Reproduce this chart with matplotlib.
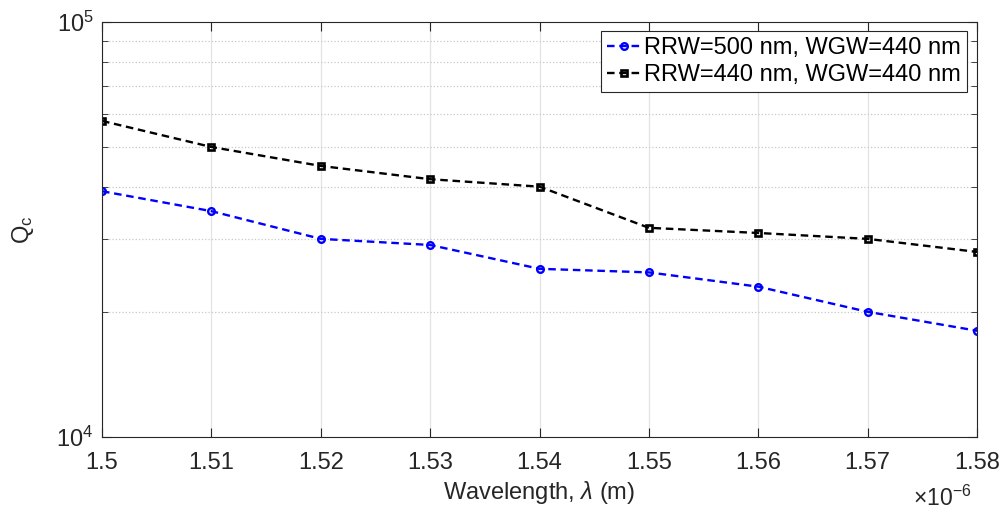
import numpy as np
import matplotlib.pyplot as plt
from matplotlib.ticker import LogLocator, NullFormatter, FixedLocator

plt.rcParams['font.family'] = ['Liberation Sans', 'DejaVu Sans']
plt.rcParams['mathtext.fontset'] = 'custom'
plt.rcParams['mathtext.rm'] = 'Liberation Sans'
plt.rcParams['mathtext.it'] = 'Liberation Sans:italic'

# data (wavelength in m, Qc)
wavelength = [1.50e-6, 1.51e-6, 1.52e-6, 1.53e-6, 1.54e-6, 1.55e-6, 1.56e-6, 1.57e-6, 1.58e-6]
qc_500 = [39100, 35000, 30000, 29000, 25400, 24900, 23000, 20000, 18000]
qc_440 = [57800, 50000, 45000, 41800, 40100, 31900, 31000, 30000, 27900]
labels = ['RRW=500 nm, WGW=440 nm', 'RRW=440 nm, WGW=440 nm']
xticks = [1.5, 1.51, 1.52, 1.53, 1.54, 1.55, 1.56, 1.57, 1.58]

x = np.array(wavelength) * 1e6
txt = '#262626'

fig = plt.figure(figsize=(10.08, 5.17), dpi=100)
ax = fig.add_axes([0.1012, 0.1557, 0.8681, 0.8012])

ax.plot(x, qc_500, '--o', color='blue', lw=1.7, ms=4.8, mfc='none', mew=1.7,
        dashes=(3.2, 2.0), label=labels[0])
ax.plot(x, qc_440, '--s', color='black', lw=1.7, ms=3.8, mfc='none', mew=1.9,
        dashes=(3.2, 2.0), label=labels[1])

ax.set_yscale('log')
ax.set_ylim(1e4, 1e5)
ax.set_xlim(1.5, 1.58)
ax.set_xticks(xticks)
ax.set_xticklabels(['%g' % t for t in xticks])
ax.yaxis.set_major_locator(FixedLocator([1e4, 1e5]))
ax.yaxis.set_minor_locator(LogLocator(base=10, subs=np.arange(2, 10)))
ax.yaxis.set_minor_formatter(NullFormatter())

ax.grid(True, which='major', axis='x', color='#e3e3e3', lw=0.9)
ax.grid(True, which='minor', axis='y', color='#c8c8c8', lw=0.9, ls=':')
ax.set_axisbelow(True)

ax.tick_params(which='both', direction='in', top=True, right=True, colors=txt, labelsize=17)
ax.tick_params(which='major', length=6.5)
ax.tick_params(which='minor', length=4)
ax.tick_params(axis='x', pad=11)
ax.tick_params(axis='y', pad=6)
for s in ax.spines.values():
    s.set_color(txt)
    s.set_linewidth(0.8)

ax.set_xlabel(r'Wavelength, $\lambda$ (m)', fontsize=17, color=txt, labelpad=4)
ax.set_ylabel(r'Q$_\mathrm{c}$', fontsize=17, color=txt)
ax.yaxis.set_label_coords(-0.076, 0.5)
ax.text(0.9606, -0.15, r'$\times\mathrm{10^{-6}}$', transform=ax.transAxes, fontsize=16.5,
        color=txt, ha='center', va='center')

leg = ax.legend(loc='upper right', fontsize=17, frameon=True, fancybox=False,
                handlelength=1.5, handletextpad=0.1, borderpad=0.25, labelspacing=0.2,
                borderaxespad=0, bbox_to_anchor=(0.9886, 0.978))
leg.get_frame().set_edgecolor(txt)
leg.get_frame().set_linewidth(0.8)
leg.get_frame().set_alpha(1)

fig.savefig('out.png', dpi=100)
